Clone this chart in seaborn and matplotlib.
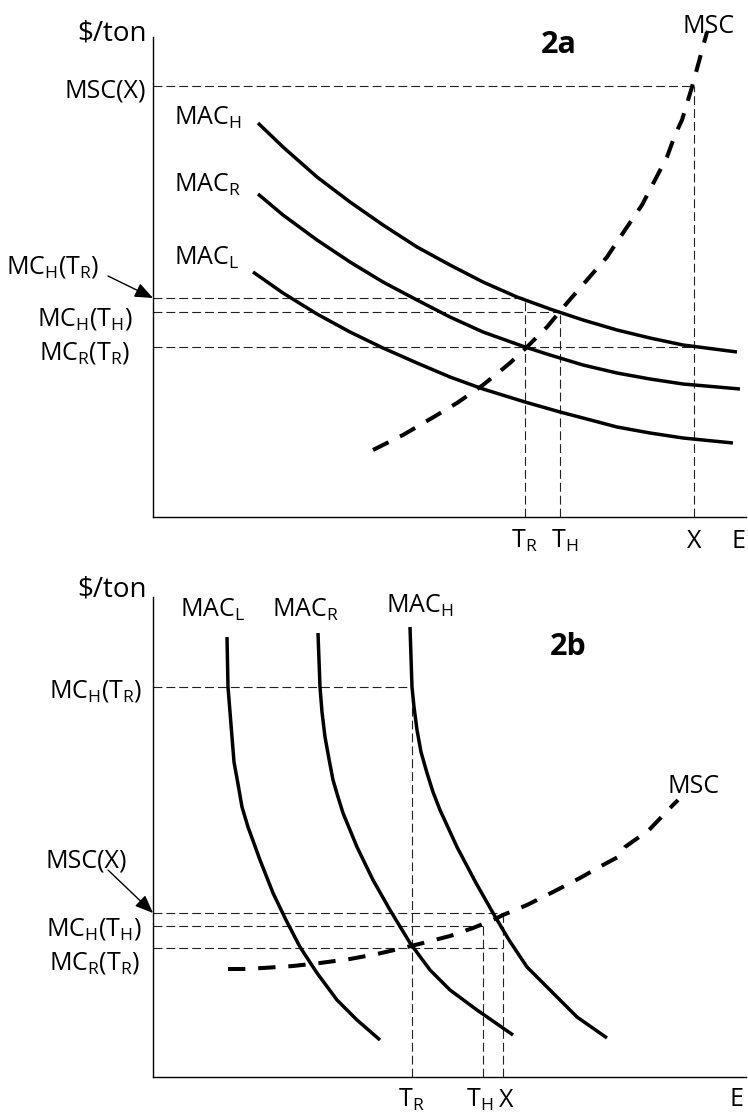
import numpy as np
import seaborn as sns
from matplotlib import pyplot as plt

# ---- panel 2a (E on x, $/ton on y, arbitrary units) ----
a_mac_h_x = [105, 130, 164, 197, 230, 264, 297, 330, 364, 397, 430, 464, 497, 530, 584]
a_mac_h_y = [394, 370, 340, 315, 292, 270, 252, 235, 220, 208, 197, 187, 179, 172, 165]
a_mac_r_x = [105, 130, 164, 197, 230, 264, 297, 330, 372, 397, 430, 464, 497, 530, 587]
a_mac_r_y = [323, 302, 277, 255, 235, 217, 200, 185, 170, 162, 152, 144, 138, 133, 128]
a_mac_l_x = [100, 130, 164, 197, 230, 264, 297, 330, 372, 407, 430, 464, 497, 530, 580]
a_mac_l_y = [245, 224, 203, 185, 169, 154, 140, 128, 115, 105, 99, 90, 84, 79, 74]
a_msc_x = [220, 250, 279, 304, 330, 357, 374, 394, 414, 434, 454, 472, 489, 502, 514, 522, 529, 539, 554]
a_msc_y = [67, 82, 99, 114, 132, 154, 170, 190, 214, 237, 260, 287, 312, 337, 360, 382, 397, 430, 485]
# reference levels: price level and the quantity where its dashed line stops
a_levels = [431, 219, 205, 170]
a_level_ends = [541, 372, 407, 541]
a_qty = [372, 407, 541]          # T_R, T_H, X
a_qty_tops = [219, 205, 431]

# ---- panel 2b ----
b_mac_l_x = [74, 75, 77, 79, 81, 85, 89, 95, 107, 120, 133, 147, 164, 184, 204, 227]
b_mac_l_y = [440, 390, 365, 340, 315, 293, 270, 250, 217, 184, 157, 130, 104, 77, 57, 37]
b_mac_r_x = [165, 167, 169, 172, 176, 180, 185, 190, 204, 220, 237, 257, 277, 297, 324, 360]
b_mac_r_y = [444, 390, 365, 340, 318, 297, 280, 264, 230, 197, 167, 134, 107, 87, 67, 42]
b_mac_h_x = [257, 259, 261, 264, 268, 274, 280, 287, 304, 323, 340, 356, 374, 397, 424, 454]
b_mac_h_y = [450, 390, 370, 347, 325, 304, 285, 267, 230, 194, 164, 137, 110, 87, 60, 39]
b_msc_x = [75, 90, 110, 140, 167, 197, 224, 250, 270, 297, 320, 340, 350, 374, 400, 427,
           450, 465, 472, 496, 518, 525]
b_msc_y = [108, 108, 109, 111, 114, 118, 123, 129, 134, 141, 149, 157, 162, 172, 185, 199,
           212, 220, 230, 247, 270, 277]
b_levels = [390, 164, 151, 129]
b_level_ends = [259, 350, 330, 350]
b_qty = [259, 330, 350]
b_qty_tops = [390, 151, 164]

sns.set_theme(style='white')
plt.rcParams['font.family'] = ['Open Sans', 'DejaVu Sans']
plt.rcParams['mathtext.fontset'] = 'custom'
plt.rcParams['mathtext.rm'] = 'Open Sans'
plt.rcParams['mathtext.it'] = 'Open Sans'
plt.rcParams['text.color'] = 'black'

FS = 18
thin = dict(color='#222222', lw=0.8, linestyles=(0, (8, 3.6)))
solid = dict(color='black', lw=2.5, solid_capstyle='butt', solid_joinstyle='round')
msc_style = dict(color='black', lw=2.9, linestyle=(0, (4.3, 3.2)))
arrow = dict(arrowstyle='-|>,head_length=1.1,head_width=0.45', color='black',
             lw=1.0, mutation_scale=10, shrinkA=0, shrinkB=0)

fig = plt.figure(figsize=(7.48, 11.12), dpi=100)
ax_a = fig.add_axes([153/748, 595/1112, 593/748, 500/1112])
ax_b = fig.add_axes([153/748, 35/1112, 593/748, 500/1112])

for ax in (ax_a, ax_b):
    ax.set_xlim(0, 593)
    ax.set_ylim(0, 500)
    ax.set_xticks([])
    ax.set_yticks([])
    for s in ('top', 'right'):
        ax.spines[s].set_visible(False)
    for s in ('left', 'bottom'):
        ax.spines[s].set_color('black')
        ax.spines[s].set_linewidth(1.0)
    ax.spines['left'].set_bounds(0, 480)
    ax.patch.set_alpha(0)


def draw(ax, curves, msc, levels, ends, qty, tops):
    ax.hlines(levels, 0, ends, **thin)
    ax.vlines(qty, 0, tops, **thin)
    for cx, cy in curves:
        sns.lineplot(x=cx, y=cy, ax=ax, sort=False, estimator=None, **solid)
    sns.lineplot(x=msc[0], y=msc[1], ax=ax, sort=False, estimator=None, **msc_style)


draw(ax_a, [(a_mac_h_x, a_mac_h_y), (a_mac_r_x, a_mac_r_y), (a_mac_l_x, a_mac_l_y)],
     (a_msc_x, a_msc_y), a_levels, a_level_ends, a_qty, a_qty_tops)
draw(ax_b, [(b_mac_l_x, b_mac_l_y), (b_mac_r_x, b_mac_r_y), (b_mac_h_x, b_mac_h_y)],
     (b_msc_x, b_msc_y), b_levels, b_level_ends, b_qty, b_qty_tops)

kw = dict(fontsize=FS, va='baseline', clip_on=False)

# panel 2a text
ax_a.text(-6, 477, '$/ton', ha='right', fontsize=20, va='baseline', clip_on=False)
ax_a.text(-7, 420, 'MSC(X)', ha='right', **kw)
ax_a.text(21, 392, r'MAC$_\mathrm{H}$', ha='left', **kw)
ax_a.text(21, 325, r'MAC$_\mathrm{R}$', ha='left', **kw)
ax_a.text(21, 252, r'MAC$_\mathrm{L}$', ha='left', **kw)
ax_a.text(-147, 244, r'MC$_\mathrm{H}$(T$_\mathrm{R}$)', ha='left', **kw)
ax_a.text(-20, 192, r'MC$_\mathrm{H}$(T$_\mathrm{H}$)', ha='right', **kw)
ax_a.text(-23, 157, r'MC$_\mathrm{R}$(T$_\mathrm{R}$)', ha='right', **kw)
ax_a.text(406, 464, '2a', ha='center', va='baseline', fontsize=22, fontweight='bold')
ax_a.text(556, 484, 'MSC', ha='center', **kw)
ax_a.annotate('', xy=(0, 219), xytext=(-45, 241), arrowprops=arrow, annotation_clip=False)
for lab, xx in zip([r'T$_\mathrm{R}$', r'T$_\mathrm{H}$', 'X'], [371, 412, 541]):
    ax_a.text(xx, -31, lab, ha='center', **kw)
ax_a.text(585, -31, 'E', ha='center', **kw)

# panel 2b text
ax_b.text(-6, 480, '$/ton', ha='right', fontsize=20, va='baseline', clip_on=False)
ax_b.text(27, 460, r'MAC$_\mathrm{L}$', ha='left', **kw)
ax_b.text(119, 460, r'MAC$_\mathrm{R}$', ha='left', **kw)
ax_b.text(233, 464, r'MAC$_\mathrm{H}$', ha='left', **kw)
ax_b.text(415, 422, '2b', ha='center', va='baseline', fontsize=22, fontweight='bold')
ax_b.text(-11, 380, r'MC$_\mathrm{H}$(T$_\mathrm{R}$)', ha='right', **kw)
ax_b.text(541, 284, 'MSC', ha='center', **kw)
ax_b.text(-26, 209, 'MSC(X)', ha='right', **kw)
ax_b.text(-11, 142, r'MC$_\mathrm{H}$(T$_\mathrm{H}$)', ha='right', **kw)
ax_b.text(-13, 107, r'MC$_\mathrm{R}$(T$_\mathrm{R}$)', ha='right', **kw)
ax_b.annotate('', xy=(0, 164), xytext=(-45, 207), arrowprops=arrow, annotation_clip=False)
for lab, xx in zip([r'T$_\mathrm{R}$', r'T$_\mathrm{H}$', 'X'], [258, 327, 353]):
    ax_b.text(xx, -30, lab, ha='center', **kw)
ax_b.text(584, -29, 'E', ha='center', **kw)

fig.savefig('out.png', dpi=100)
